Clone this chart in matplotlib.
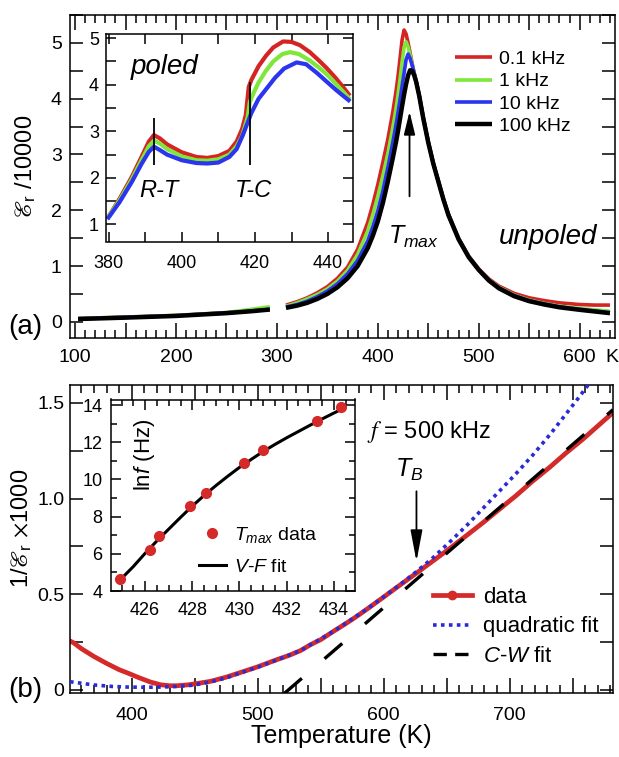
import matplotlib
matplotlib.use('Agg')
import matplotlib.pyplot as plt
from matplotlib.ticker import MultipleLocator, FuncFormatter
from matplotlib.lines import Line2D


#------------------------------------------------------------------------------
# (a) unpoled, permittivity / 10000 vs temperature (K)

freq_labels = ['0.1 kHz', '1 kHz', '10 kHz', '100 kHz']
freq_colors = ['#d42424', '#7fe63a', '#2b34ee', 'black']

# below the gap in the measurement
T_low = [103, 150, 200, 250, 275, 293]
red_low = [0.06, 0.085, 0.115, 0.165, 0.20, 0.235]
green_low = [0.06, 0.085, 0.115, 0.165, 0.225, 0.27]
blue_low = [0.055, 0.08, 0.11, 0.16, 0.195, 0.225]
black_low = [0.05, 0.075, 0.105, 0.155, 0.19, 0.22]

# above the gap
T_high = [309, 320, 330, 340, 350, 360, 370, 380, 390, 395, 400, 405, 410,
          415, 418, 420, 422, 424, 426, 428, 430, 432, 434, 436, 438, 441,
          445, 450, 455, 460, 465, 470, 480, 490, 500, 510, 520, 535, 550,
          565, 580, 600, 615, 630]
red_high = [0.30, 0.36, 0.43, 0.52, 0.63, 0.78, 0.98, 1.30, 1.78, 2.10, 2.46,
            2.86, 3.28, 3.78, 4.13, 4.40, 4.72, 5.05, 5.23, 5.16, 5.00, 4.82,
            4.63, 4.46, 4.31, 4.06, 3.67, 3.23, 2.85, 2.53, 2.21, 1.93, 1.50,
            1.18, 0.95, 0.77, 0.64, 0.51, 0.43, 0.38, 0.34, 0.31, 0.30, 0.30]
green_high = [0.28, 0.34, 0.41, 0.49, 0.59, 0.73, 0.92, 1.21, 1.63, 1.92,
              2.25, 2.62, 3.02, 3.50, 3.82, 4.07, 4.35, 4.65, 4.92, 5.02,
              4.93, 4.78, 4.61, 4.46, 4.31, 4.06, 3.66, 3.22, 2.84, 2.52,
              2.20, 1.92, 1.49, 1.17, 0.94, 0.75, 0.62, 0.48, 0.39, 0.33,
              0.28, 0.24, 0.215, 0.19]
blue_high = [0.265, 0.31, 0.37, 0.45, 0.55, 0.68, 0.86, 1.10, 1.45, 1.70,
             1.99, 2.35, 2.77, 3.23, 3.53, 3.75, 3.98, 4.22, 4.46, 4.70, 4.80,
             4.72, 4.60, 4.46, 4.31, 4.06, 3.66, 3.22, 2.84, 2.52, 2.20, 1.92,
             1.49, 1.17, 0.94, 0.75, 0.61, 0.47, 0.38, 0.32, 0.27, 0.225,
             0.195, 0.165]
black_high = [0.25, 0.29, 0.34, 0.41, 0.50, 0.62, 0.78, 1.00, 1.32, 1.54,
              1.80, 2.13, 2.52, 2.95, 3.22, 3.42, 3.64, 3.86, 4.07, 4.26,
              4.42, 4.51, 4.50, 4.42, 4.30, 4.05, 3.65, 3.21, 2.83, 2.51,
              2.19, 1.91, 1.48, 1.16, 0.93, 0.74, 0.60, 0.46, 0.37, 0.31,
              0.26, 0.215, 0.185, 0.155]

T_peak = 431.4

#------------------------------------------------------------------------------
# (a) inset, poled

red_in_T = [380, 383, 386.4, 389, 391, 392.4, 394, 396, 400, 404, 407, 410,
            413, 415, 416.5, 417.5, 418.3, 419, 421, 423, 425, 427.7, 430,
            432.3, 435, 437.5, 439.7, 442, 444, 445.6]
red_in = [1.17, 1.55, 2.03, 2.45, 2.78, 2.92, 2.85, 2.72, 2.55, 2.45, 2.43,
          2.47, 2.58, 2.78, 3.05, 3.35, 3.95, 4.10, 4.40, 4.62, 4.80, 4.93,
          4.92, 4.85, 4.70, 4.52, 4.35, 4.15, 3.96, 3.80]
green_in_T = [380, 383, 386.4, 389, 391, 392.4, 394, 396, 400, 404, 407, 410,
              413, 415, 416.5, 418, 418.6, 419.5, 421, 423, 425, 427.5, 429.6,
              432, 435, 437.5, 439.7, 442, 444, 445.6]
green_in = [1.17, 1.52, 1.98, 2.38, 2.68, 2.80, 2.74, 2.62, 2.46, 2.38, 2.37,
            2.40, 2.50, 2.68, 2.90, 3.30, 3.63, 3.80, 4.05, 4.30, 4.50, 4.66,
            4.70, 4.66, 4.52, 4.37, 4.22, 4.03, 3.86, 3.72]
blue_in_T = [380, 383, 386.4, 389, 391, 392.4, 394, 396, 400, 404, 407, 410,
             413, 415, 416.7, 419, 421, 423.2, 425.5, 428, 431.4, 434, 437,
             439.7, 442, 444, 445.6]
blue_in = [1.15, 1.48, 1.92, 2.30, 2.56, 2.67, 2.60, 2.50, 2.38, 2.32, 2.31,
           2.33, 2.45, 2.62, 2.92, 3.39, 3.70, 3.92, 4.15, 4.35, 4.48, 4.44,
           4.25, 4.06, 3.90, 3.77, 3.67]

T_RT = 392.4
T_TC = 418.6
RT_span = [2.28, 3.28]
TC_span = [2.28, 4.06]

#------------------------------------------------------------------------------
# (b) 1/permittivity x 1000 at 500 kHz

data_T = [351, 354, 360, 370, 380, 390, 397, 405, 415, 423, 430, 436, 445,
          455, 462.5, 475, 489, 500, 515, 525, 534, 542, 550, 560, 568, 575,
          581, 587, 600, 613, 626, 640, 653, 666, 679, 692, 705, 718, 732,
          745, 758, 770, 782]
data_v = [0.255, 0.245, 0.215, 0.174, 0.138, 0.105, 0.087, 0.065, 0.040,
          0.026, 0.021, 0.021, 0.026, 0.036, 0.044, 0.066, 0.096, 0.120,
          0.157, 0.180, 0.205, 0.236, 0.262, 0.305, 0.338, 0.368, 0.395,
          0.423, 0.485, 0.548, 0.610, 0.678, 0.742, 0.808, 0.875, 0.945,
          1.015, 1.090, 1.165, 1.240, 1.310, 1.380, 1.450]

quad_T = [351, 370, 385, 397, 410, 423, 435, 449, 462, 475, 489, 500, 515,
          534, 560, 587, 613, 626, 639, 652, 666, 679, 692, 705, 718, 732,
          745, 755, 764]
quad_v = [0.042, 0.025, 0.017, 0.014, 0.013, 0.014, 0.017, 0.024, 0.040,
          0.062, 0.094, 0.118, 0.155, 0.205, 0.305, 0.423, 0.550, 0.618,
          0.690, 0.770, 0.860, 0.950, 1.040, 1.130, 1.225, 1.335, 1.445,
          1.530, 1.610]

cw_T = [521, 782]
cw_v = [-0.02, 1.465]

T_B = 626

#------------------------------------------------------------------------------
# (b) inset, Vogel-Fulcher

tmax_T = [424.94, 426.2, 426.6, 427.9, 428.6, 430.2, 431.0, 433.3, 434.3]
tmax_lnf = [4.63, 6.22, 6.94, 8.56, 9.26, 10.88, 11.57, 13.15, 13.88]

vf_T = [424.94, 425.5, 426, 426.5, 427, 427.5, 428, 428.5, 429, 429.5, 430,
        430.5, 431, 431.5, 432, 432.5, 433, 433.5, 434, 434.4]
vf_lnf = [4.60, 5.32, 6.03, 6.70, 7.33, 7.96, 8.57, 9.14, 9.67, 10.17,
          10.65, 11.08, 11.50, 11.88, 12.24, 12.58, 12.92, 13.25, 13.57,
          13.82]


W = 619.0
H = 757.0


def box(left, top, right, bottom):
    # pixel box -> figure fraction
    return [left / W, 1 - bottom / H, (right - left) / W, (bottom - top) / H]


def hundreds(v, pos):
    if abs(v % 100) < 1e-6:
        return '%d' % v
    return ''


def main():

    matplotlib.rc('font', family='Liberation Sans', size=14)
    matplotlib.rcParams.update({'mathtext.fontset': 'custom'})
    matplotlib.rcParams.update({'mathtext.it': 'Liberation Sans:italic'})
    matplotlib.rcParams.update({'mathtext.rm': 'Liberation Sans'})
    matplotlib.rcParams.update({'mathtext.sf': 'Liberation Sans'})
    matplotlib.rcParams.update({'axes.linewidth': 1.1})

    fig = plt.figure(figsize=(W / 100, H / 100), dpi=100)

    #--------------------------------------------------------------------------
    # panel (a)

    ax = fig.add_axes(box(70, 15, 615, 338))

    lows = [red_low, green_low, blue_low, black_low]
    highs = [red_high, green_high, blue_high, black_high]

    for lo, hi, c, lab in zip(lows, highs, freq_colors, freq_labels):
        lw = 3.2 if c == 'black' else 2.6
        ax.plot(T_low, lo, color=c, lw=lw, solid_capstyle='butt')
        ax.plot(T_high, hi, color=c, lw=lw, label=lab,
                solid_capstyle='butt')

    ax.set_xlim(95, 635)
    ax.set_ylim(-0.29, 5.5)

    ax.xaxis.set_major_locator(MultipleLocator(50))
    ax.xaxis.set_minor_locator(MultipleLocator(10))
    ax.xaxis.set_major_formatter(FuncFormatter(hundreds))
    ax.yaxis.set_major_locator(MultipleLocator(1))
    ax.yaxis.set_minor_locator(MultipleLocator(0.5))

    ax.tick_params(which='both', direction='in', top=True, right=True,
                   width=1.1)
    ax.tick_params(axis='x', which='major', length=11, pad=8, labelsize=14)
    ax.tick_params(axis='x', which='minor', length=6)
    ax.tick_params(axis='y', which='both', length=9.5, pad=6, labelsize=14)

    ax.set_ylabel(r'$\mathscr{E}_\mathregular{r}$ /10000', fontsize=17,
                  math_fontfamily='stix')
    ax.yaxis.set_label_coords(-0.058, 0.53)

    ax.text(0.982, -0.06, 'K', transform=ax.transAxes, fontsize=14,
            ha='left', va='center')

    ax.annotate('', xy=(T_peak, 3.77), xytext=(T_peak, 2.25),
                arrowprops=dict(arrowstyle='-|>,head_length=0.7,head_width=0.17',
                                color='black', lw=1.3, mutation_scale=20,
                                shrinkA=0, shrinkB=0))
    ax.text(435, 1.52, r'$T_{max}$', fontsize=18, ha='center', va='center')
    ax.text(617, 1.52, 'unpoled', fontsize=20, style='italic',
            ha='right', va='center')

    ax.legend(loc='upper left', bbox_to_anchor=(0.706, 0.89), frameon=False,
              fontsize=14, handlelength=1.9, handletextpad=0.4,
              labelspacing=0.24, borderpad=0, borderaxespad=0)

    fig.text(8 / W, 1 - 327 / H, '(a)', fontsize=20, ha='left', va='center')

    # inset (a)

    axi = fig.add_axes(box(106, 34, 353, 241.5))

    for tt, vv, c in zip([red_in_T, green_in_T, blue_in_T],
                         [red_in, green_in, blue_in], freq_colors[:3]):
        axi.plot(tt, vv, color=c, lw=3.0)

    axi.vlines([T_RT], RT_span[0], RT_span[1], color='black', lw=1.3)
    axi.vlines([T_TC], TC_span[0], TC_span[1], color='black', lw=1.3)

    axi.set_xlim(379.3, 446.8)
    axi.set_ylim(0.635, 5.09)

    axi.xaxis.set_major_locator(MultipleLocator(20))
    axi.xaxis.set_minor_locator(MultipleLocator(10))
    axi.yaxis.set_major_locator(MultipleLocator(1))
    axi.yaxis.set_minor_locator(MultipleLocator(0.5))
    axi.tick_params(which='both', direction='in', top=True, right=True,
                    length=7, width=1.1, labelsize=13)
    axi.tick_params(axis='x', pad=10)
    axi.tick_params(axis='y', pad=5)

    axi.text(386, 4.38, 'poled', fontsize=20, style='italic',
             ha='left', va='center')
    axi.text(393.7, 1.74, 'R-T', fontsize=17, style='italic',
             ha='center', va='center')
    axi.text(419.5, 1.74, 'T-C', fontsize=17, style='italic',
             ha='center', va='center')

    #--------------------------------------------------------------------------
    # panel (b)

    bx = fig.add_axes(box(70, 385, 613, 693))

    bx.plot(data_T, data_v, color='#d42a2a', lw=3.4, zorder=2)
    bx.plot(quad_T, quad_v, color='#2a2ad8', lw=2.6,
            linestyle=(0, (1.0, 1.2)), zorder=3)
    bx.plot(cw_T, cw_v, color='black', lw=2.4, linestyle=(0, (7, 9)),
            dash_capstyle='butt', zorder=4)

    bx.set_xlim(351, 782)
    bx.set_ylim(-0.017, 1.594)

    bx.xaxis.set_major_locator(MultipleLocator(50))
    bx.xaxis.set_minor_locator(MultipleLocator(10))
    bx.xaxis.set_major_formatter(FuncFormatter(hundreds))
    bx.yaxis.set_major_locator(MultipleLocator(0.5))
    bx.yaxis.set_minor_locator(MultipleLocator(0.25))
    bx.yaxis.set_major_formatter(
        FuncFormatter(lambda v, p: '0' if abs(v) < 1e-9 else '%.1f' % v))

    bx.tick_params(which='both', direction='in', top=True, right=True,
                   width=1.1)
    bx.tick_params(axis='x', which='major', length=11, pad=10, labelsize=14)
    bx.tick_params(axis='x', which='minor', length=6)
    bx.tick_params(axis='y', which='both', length=9.5, pad=4, labelsize=14)

    bx.set_xlabel('Temperature (K)', fontsize=18)
    bx.xaxis.set_label_coords(0.5, -0.1)
    bx.set_ylabel(r'1/$\mathscr{E}_\mathregular{r}$ $\times$1000',
                  fontsize=17, math_fontfamily='stix')
    bx.yaxis.set_label_coords(-0.066, 0.536)

    bx.text(587, 1.35, r'$f$ = 500 kHz', fontsize=17, ha='left',
            va='center', math_fontfamily='stix')
    bx.text(620, 1.15, r'$T_B$', fontsize=18, ha='center', va='center')
    bx.annotate('', xy=(T_B, 0.671), xytext=(T_B, 1.038),
                arrowprops=dict(arrowstyle='-|>,head_length=0.95,head_width=0.18',
                                color='black', lw=1.3, mutation_scale=20,
                                shrinkA=0, shrinkB=0))

    handles = [
        Line2D([], [], color='#d42a2a', lw=3.4, marker='o', markersize=6),
        Line2D([], [], color='#2a2ad8', lw=2.6, linestyle=(0, (1.0, 1.2))),
        Line2D([], [], color='black', lw=2.4, linestyle=(0, (4, 2.5)),
               dash_capstyle='butt'),
    ]
    labels = ['data', 'quadratic fit', r'$C$-$W$ fit']
    bx.legend(handles, labels, loc='upper left', bbox_to_anchor=(0.668, 0.344),
              frameon=False, fontsize=16, handlelength=1.75,
              handletextpad=0.5, labelspacing=0.38, borderpad=0,
              borderaxespad=0, numpoints=1)

    fig.text(8 / W, 1 - 690 / H, '(b)', fontsize=20, ha='left', va='center')

    # inset (b)

    bi = fig.add_axes(box(111, 399.5, 355, 591))

    bi.plot(vf_T, vf_lnf, color='black', lw=2.2, label=r'$V$-$F$ fit',
            zorder=2)
    bi.plot(tmax_T, tmax_lnf, linestyle='none', marker='o', markersize=7,
            color='#d42a2a', label=r'$T_{max}$ data', zorder=3)

    bi.set_xlim(424.55, 434.9)
    bi.set_ylim(4.0, 14.3)

    bi.xaxis.set_major_locator(MultipleLocator(2))
    bi.xaxis.set_minor_locator(MultipleLocator(0.5))
    bi.yaxis.set_major_locator(MultipleLocator(2))
    bi.yaxis.set_minor_locator(MultipleLocator(1))
    bi.tick_params(which='both', direction='in', top=True, right=True,
                   width=1.1, labelsize=13)
    bi.tick_params(which='major', length=7)
    bi.tick_params(which='minor', length=4)
    bi.tick_params(axis='x', pad=8)
    bi.tick_params(axis='y', pad=6)

    bi.text(0.139, 0.709, r'ln$f$ (Hz)', transform=bi.transAxes, fontsize=16,
            rotation=90, ha='center', va='center')

    h, l = bi.get_legend_handles_labels()
    bi.legend(h[::-1], l[::-1], loc='upper left',
              bbox_to_anchor=(0.36, 0.345), frameon=False, fontsize=14,
              handlelength=1.4, handletextpad=0.4, labelspacing=0.7,
              borderpad=0, borderaxespad=0, numpoints=1)

    fig.savefig('out.png', dpi=100)


if __name__ == "__main__":
    main()
